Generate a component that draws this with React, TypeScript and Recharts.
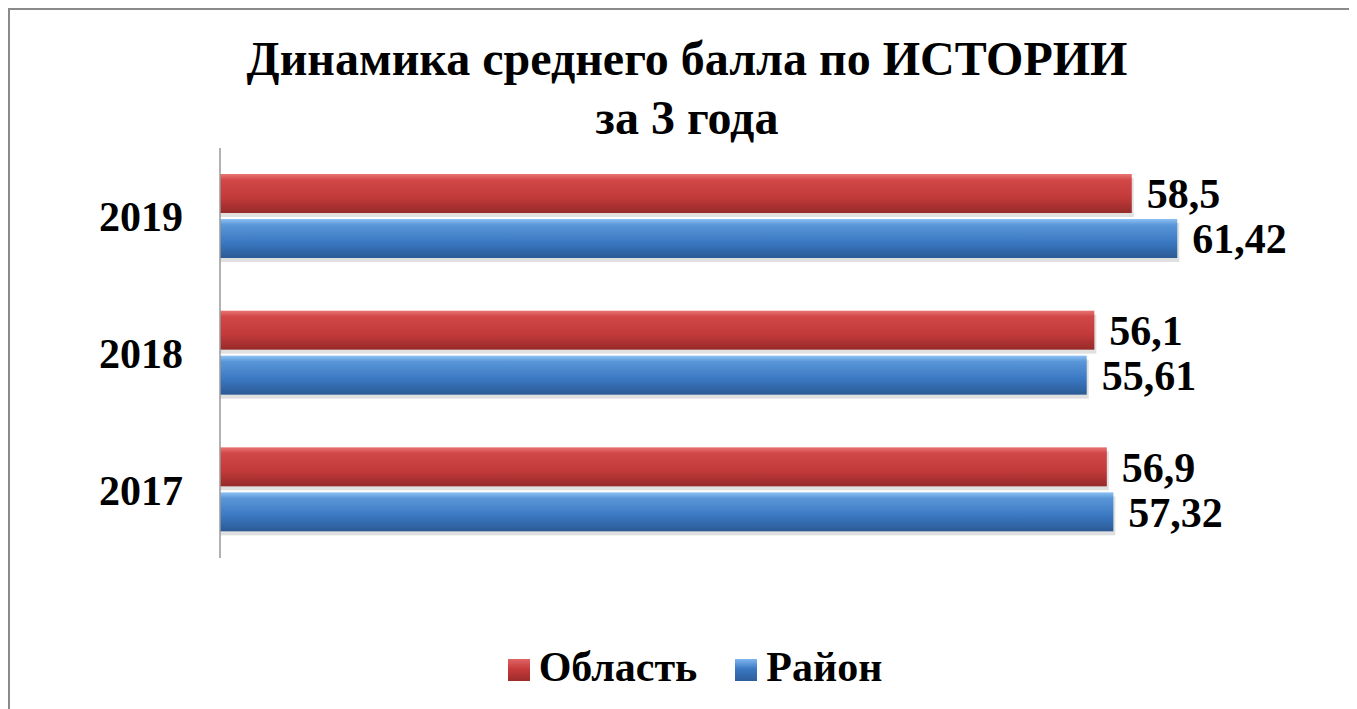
import { BarChart, Bar, XAxis, YAxis, LabelList, Legend } from "recharts";

const years = ["2019", "2018", "2017"];
const oblast = [58.5, 56.1, 56.9];
const rayon = [61.42, 55.61, 57.32];

const seriesNames = ["Область", "Район"];
const seriesColors = ["#C63B3B", "#3A78C2"];

const data = years.map((y, i) => ({ year: y, oblast: oblast[i], rayon: rayon[i] }));

const FONT = '"Liberation Serif", "Times New Roman", serif';

const fmt = (v: any) => String(v).replace(".", ",");

function ShadowBar(props: any) {
  const { x, y, width, height, gradient } = props;
  if (!width || width <= 0) return null;
  return (
    <g>
      <rect x={x} y={y + 4} width={width + 2} height={height} fill="#000" opacity={0.12} />
      <rect x={x} y={y} width={width} height={height} fill={`url(#${gradient})`} />
    </g>
  );
}

function LegendBox() {
  return (
    <div
      style={{
        display: "flex",
        justifyContent: "center",
        alignItems: "center",
        paddingLeft: 69,
        fontFamily: FONT,
        fontWeight: "bold",
        fontSize: 42,
        color: "#000",
        lineHeight: "48px",
      }}
    >
      {seriesNames.map((n, i) => (
        <div key={n} style={{ display: "flex", alignItems: "center", marginRight: i === 0 ? 38 : 0 }}>
          <span
            style={{
              display: "inline-block",
              width: 22,
              height: 22,
              marginRight: 9,
              marginTop: 6,
              background: `linear-gradient(${i === 0 ? "#E06565, #C63B3B 45%, #9E2B2B" : "#7FB6EE, #3A78C2 45%, #2D5E9C"})`,
            }}
          />
          <span>{n}</span>
        </div>
      ))}
    </div>
  );
}

export default function App() {
  return (
    <div
      style={{
        position: "relative",
        width: 1349,
        height: 701,
        boxSizing: "border-box",
        borderTop: "2px solid #8a8a8a",
        borderLeft: "2px solid #8a8a8a",
        background: "#fff",
      }}
    >
      <div
        style={{
          position: "absolute",
          left: 0,
          top: 19,
          width: 1354,
          textAlign: "center",
          fontFamily: FONT,
          fontWeight: "bold",
          fontSize: 48,
          lineHeight: "59px",
          color: "#000",
        }}
      >
        Динамика среднего балла по ИСТОРИИ
        <br />
        за 3 года
      </div>
      <BarChart
        width={1345}
        height={690}
        data={data}
        layout="vertical"
        margin={{ top: 138, right: 44, bottom: 94, left: 0 }}
        barSize={39}
        barGap={6}
      >
        <defs>
          <linearGradient id="gRed" x1="0" y1="0" x2="0" y2="1">
            <stop offset="0%" stopColor="#EA7474" />
            <stop offset="15%" stopColor="#D24848" />
            <stop offset="60%" stopColor="#C33A3A" />
            <stop offset="100%" stopColor="#962A2A" />
          </linearGradient>
          <linearGradient id="gBlue" x1="0" y1="0" x2="0" y2="1">
            <stop offset="0%" stopColor="#8DC2F2" />
            <stop offset="15%" stopColor="#5A96D8" />
            <stop offset="60%" stopColor="#3A78C2" />
            <stop offset="100%" stopColor="#2B5A94" />
          </linearGradient>
        </defs>
        <XAxis type="number" domain={[0, 70]} hide />
        <YAxis
          type="category"
          dataKey="year"
          width={210}
          axisLine={{ stroke: "#999", strokeWidth: 1.5 }}
          tickLine={false}
          tickSize={0}
          tickMargin={37}
          tick={{ fontFamily: FONT, fontWeight: "bold", fontSize: 42, fill: "#000" }}
        />
        <Legend
          verticalAlign="bottom"
          wrapperStyle={{ bottom: 9 }}
          content={() => <LegendBox />}
        />
        <Bar
          dataKey="oblast"
          name={seriesNames[0]}
          fill={seriesColors[0]}
          isAnimationActive={false}
          shape={(p: any) => <ShadowBar {...p} gradient="gRed" />}
        >
          <LabelList
            dataKey="oblast"
            position="right"
            offset={15}
            formatter={fmt}
            style={{ fontFamily: FONT, fontWeight: "bold", fontSize: 42, fill: "#000" }}
          />
        </Bar>
        <Bar
          dataKey="rayon"
          name={seriesNames[1]}
          fill={seriesColors[1]}
          isAnimationActive={false}
          shape={(p: any) => <ShadowBar {...p} gradient="gBlue" />}
        >
          <LabelList
            dataKey="rayon"
            position="right"
            offset={15}
            formatter={fmt}
            style={{ fontFamily: FONT, fontWeight: "bold", fontSize: 42, fill: "#000" }}
          />
        </Bar>
      </BarChart>
    </div>
  );
}
